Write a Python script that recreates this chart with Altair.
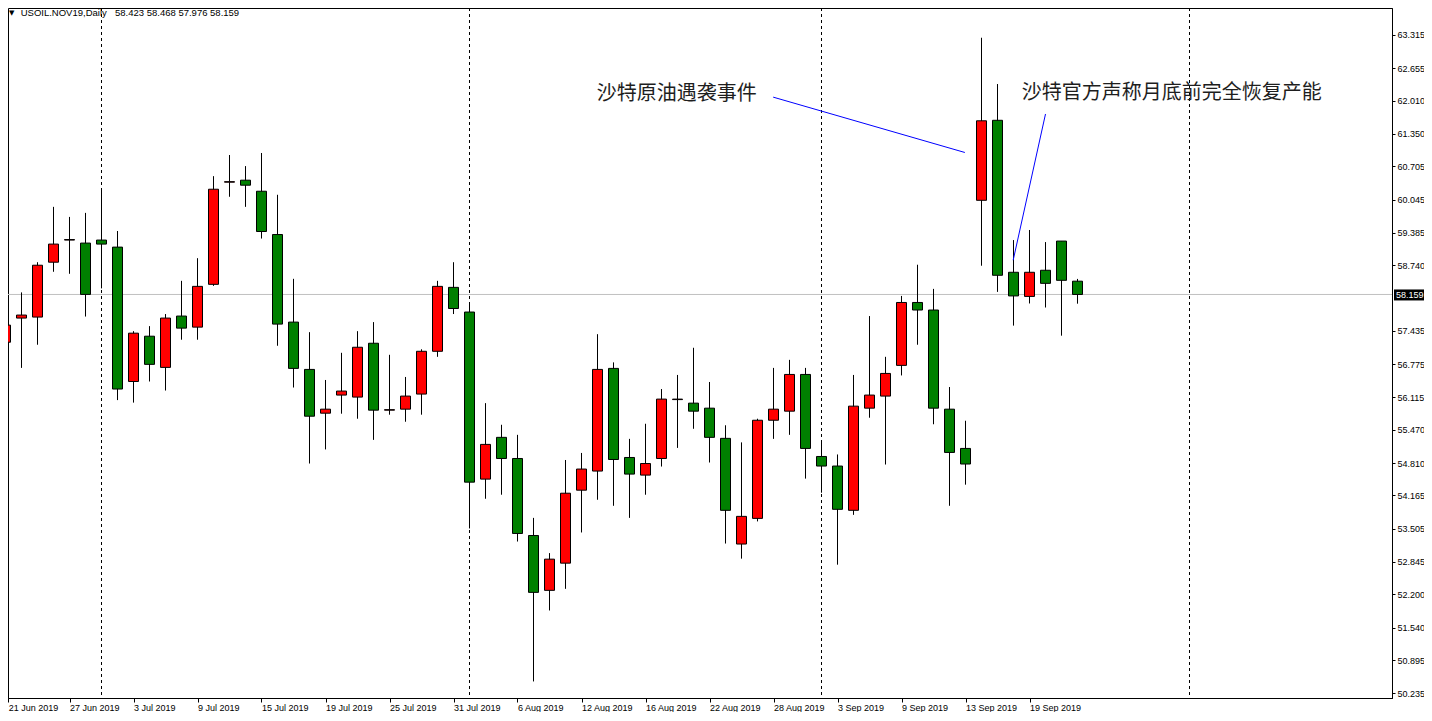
import altair as alt
import pandas as pd

# ---------------- data ----------------
bar_index = list(range(68))
open_ = [57.21, 57.69, 57.71, 58.80, 59.24, 59.18, 59.24, 59.10, 56.43, 57.33,
         56.71, 57.73, 57.51, 58.36, 60.39, 60.43, 60.21, 59.35, 57.61, 56.67,
         55.80, 56.16, 56.12, 57.19, 55.86, 55.88, 56.18, 57.03, 58.30, 57.81,
         54.49, 55.32, 54.90, 53.37, 52.28, 52.82, 54.27, 54.65, 56.69, 54.92,
         54.57, 54.90, 56.07, 56.00, 55.90, 55.30, 53.20, 53.71, 55.66, 55.84,
         56.57, 54.94, 54.75, 53.87, 55.90, 56.14, 56.75, 58.00, 57.85, 55.88,
         55.10, 60.03, 61.62, 58.60, 58.12, 58.64, 59.22, 58.423]
high = [57.95, 58.20, 58.80, 59.90, 59.70, 59.78, 60.26, 59.42, 57.43, 57.53,
        57.77, 58.43, 58.88, 60.51, 60.93, 60.71, 60.97, 60.14, 58.47, 57.41,
        56.46, 57.00, 57.43, 57.61, 56.96, 56.52, 57.07, 58.43, 58.80, 57.97,
        56.00, 55.57, 55.37, 53.72, 53.02, 54.87, 55.01, 57.37, 56.81, 55.29,
        55.59, 56.28, 56.56, 57.10, 56.42, 55.56, 55.22, 55.69, 56.70, 56.86,
        56.70, 55.22, 54.98, 56.56, 57.73, 56.92, 58.13, 58.75, 58.27, 56.32,
        55.65, 63.26, 62.34, 59.24, 59.44, 59.20, 59.22, 58.468]
low = [56.62, 56.70, 57.16, 58.61, 58.57, 57.72, 58.28, 56.06, 56.01, 56.43,
       56.25, 57.26, 57.26, 58.33, 60.10, 59.90, 59.27, 57.14, 56.31, 54.80,
       55.08, 55.79, 55.69, 55.27, 55.77, 55.63, 55.77, 56.92, 57.77, 53.51,
       54.10, 54.18, 53.25, 50.47, 51.88, 52.31, 53.43, 54.08, 53.96, 53.72,
       54.18, 54.74, 55.11, 55.49, 54.82, 53.21, 52.91, 53.65, 55.29, 55.37,
       54.50, 54.22, 52.79, 53.78, 55.71, 54.78, 56.55, 57.16, 55.58, 53.96,
       54.38, 58.73, 58.21, 57.54, 57.98, 57.90, 57.34, 57.976]
close = [57.55, 57.75, 58.74, 59.16, 59.25, 58.16, 59.16, 56.28, 57.39, 56.77,
         57.69, 57.49, 58.32, 60.25, 60.40, 60.33, 59.41, 57.57, 56.69, 55.74,
         55.88, 56.24, 57.11, 55.86, 55.87, 56.14, 57.03, 58.32, 57.88, 54.43,
         55.18, 54.90, 53.41, 52.24, 52.90, 54.21, 54.69, 56.67, 54.88, 54.59,
         54.80, 56.08, 56.08, 55.84, 55.32, 53.87, 53.75, 55.66, 55.88, 56.57,
         55.10, 54.75, 53.89, 55.94, 56.16, 56.59, 58.00, 57.85, 55.90, 55.02,
         54.79, 61.61, 58.54, 58.13, 58.60, 58.38, 58.44, 58.159]

tick_index = [0, 4, 8, 12, 16, 20, 24, 28, 32, 36, 40, 44, 48, 52, 56, 60, 64]
tick_labels = ["21 Jun 2019", "27 Jun 2019", "3 Jul 2019", "9 Jul 2019",
               "15 Jul 2019", "19 Jul 2019", "25 Jul 2019", "31 Jul 2019",
               "6 Aug 2019", "12 Aug 2019", "16 Aug 2019", "22 Aug 2019",
               "28 Aug 2019", "3 Sep 2019", "9 Sep 2019", "13 Sep 2019",
               "19 Sep 2019"]
price_ticks = [63.315, 62.655, 62.010, 61.350, 60.705, 60.045, 59.385, 58.740,
               57.435, 56.775, 56.115, 55.470, 54.810, 54.165, 53.505, 52.845,
               52.200, 51.540, 50.895, 50.235]
month_separators = [6, 29, 51, 74]
symbol_name = "USOIL.NOV19,Daily"

note_text = ["沙特原油遇袭事件", "沙特官方声称月底前完全恢复产能"]
note_x = [36.96, 63.52]
note_y = [62.14, 62.16]
arrow_x = [47.98, 65.0]
arrow_y = [62.08, 61.745]
arrow_x2 = [59.96, 62.98]
arrow_y2 = [60.98, 58.84]

W, H = 1384, 690
X_DOMAIN = [0.15625, 86.65625]
Y_DOMAIN = [50.141, 63.851]
HALF_BODY = 0.3125

# ---------------- frames ----------------
df = pd.DataFrame({"i": bar_index, "open": open_, "high": high, "low": low, "close": close})
df["dir"] = ["up" if c >= o else "down" for o, c in zip(open_, close)]
df["x1"] = df["i"] - HALF_BODY
df["x2"] = df["i"] + HALF_BODY

last_price = close[-1]
price_df = pd.DataFrame({"p": [last_price], "label": [f"{last_price:.3f}"]})
sep_df = pd.DataFrame({"s": month_separators})
notes_df = pd.DataFrame({"x": note_x, "y": note_y, "t": note_text})
arrows_df = pd.DataFrame({"x": arrow_x, "y": arrow_y, "x2": arrow_x2, "y2": arrow_y2})
header_df = pd.DataFrame({
    "name": [symbol_name],
    "vals": [f"{open_[-1]:.3f} {high[-1]:.3f} {low[-1]:.3f} {close[-1]:.3f}"],
})

# ---------------- scales / axes ----------------
xs = alt.Scale(domain=X_DOMAIN, nice=False, zero=False)
ys = alt.Scale(domain=Y_DOMAIN, nice=False, zero=False)

tick_values = [max(t, X_DOMAIN[0] + 0.01) for t in tick_index]
label_array = "[" + ",".join(f"'{s}'" for s in tick_labels) + "]"
x_axis = alt.Axis(
    values=tick_values,
    labelExpr=label_array + "[round(datum.value/4)]",
    orient="bottom", labelAlign="left", labelBaseline="top", labelPadding=1,
    tickSize=4, tickColor="black", domainColor="black", labelColor="black",
    labelFont="Liberation Sans", labelFontSize=9, grid=False, title=None,
    labelOverlap=False, labelFlush=False, labelBound=False,
)
y_axis = alt.Axis(
    values=price_ticks, format=".3f", orient="right", labelAlign="left",
    labelBaseline="middle", tickSize=3, labelPadding=2, tickColor="black",
    domainColor="black", labelColor="black", labelFont="Liberation Sans",
    labelFontSize=9, grid=False, title=None, labelOverlap=False,
    labelFlush=False, labelBound=False,
)

# ---------------- layers ----------------
price_line = alt.Chart(price_df).mark_rule(color="#c0c0c0", strokeWidth=1).encode(
    y=alt.Y("p:Q", scale=ys, axis=y_axis)
)

separators = alt.Chart(sep_df).mark_rule(color="black", strokeWidth=1, strokeDash=[3, 3]).encode(
    x=alt.X("s:Q", scale=xs, axis=x_axis)
)

wicks = alt.Chart(df).mark_rule(color="black", strokeWidth=1, clip=True).encode(
    x=alt.X("i:Q", scale=xs, axis=x_axis),
    y=alt.Y("low:Q", scale=ys, axis=y_axis),
    y2="high:Q",
)

bodies = alt.Chart(df).mark_rect(stroke="black", strokeWidth=1, clip=True).encode(
    x=alt.X("x1:Q", scale=xs, axis=x_axis),
    x2="x2:Q",
    y=alt.Y("open:Q", scale=ys, axis=y_axis),
    y2="close:Q",
    color=alt.Color("dir:N", scale=alt.Scale(domain=["up", "down"], range=["#ff0000", "#008000"]), legend=None),
)

arrows = alt.Chart(arrows_df).mark_rule(color="#0000ff", strokeWidth=1).encode(
    x=alt.X("x:Q", scale=xs, axis=x_axis),
    y=alt.Y("y:Q", scale=ys, axis=y_axis),
    x2="x2:Q",
    y2="y2:Q",
)

notes = alt.Chart(notes_df).mark_text(
    align="left", baseline="middle", font="Noto Sans CJK SC", fontSize=20, color="#1e1e1e"
).encode(
    x=alt.X("x:Q", scale=xs, axis=x_axis),
    y=alt.Y("y:Q", scale=ys, axis=y_axis),
    text="t:N",
)

price_box = alt.Chart(price_df).mark_rect(color="black", yOffset=-5, y2Offset=6).encode(
    x=alt.value(W + 2), x2=alt.value(W + 32),
    y=alt.Y("p:Q", scale=ys, axis=y_axis), y2="p:Q",
)
price_text = alt.Chart(price_df).mark_text(
    align="left", baseline="middle", color="white", font="Liberation Sans", fontSize=9, dy=0.5
).encode(
    x=alt.value(W + 4), y=alt.Y("p:Q", scale=ys, axis=y_axis), text="label:N"
)

header_tri = alt.Chart(header_df).mark_text(
    text="▼", align="center", baseline="middle", font="DejaVu Sans", fontSize=7, color="black"
).encode(x=alt.value(3.7), y=alt.value(5))
header_name = alt.Chart(header_df).mark_text(
    align="left", baseline="middle", font="Liberation Sans", fontSize=9.5, color="black"
).encode(x=alt.value(12.7), y=alt.value(5), text="name:N")
header_vals = alt.Chart(header_df).mark_text(
    align="left", baseline="middle", font="Liberation Sans", fontSize=9.5, color="black"
).encode(x=alt.value(107), y=alt.value(5), text="vals:N")

chart = alt.layer(
    price_line, separators, wicks, bodies, arrows, notes,
    price_box, price_text, header_tri, header_name, header_vals,
).properties(
    width=W, height=H,
    padding={"left": 0, "top": 0, "right": 32, "bottom": 14},
    autosize=alt.AutoSizeParams(type="none"),
    background="white",
).configure_view(stroke="black", strokeWidth=1)

chart.save("out.html", embed_options={"renderer": "svg", "actions": False})
